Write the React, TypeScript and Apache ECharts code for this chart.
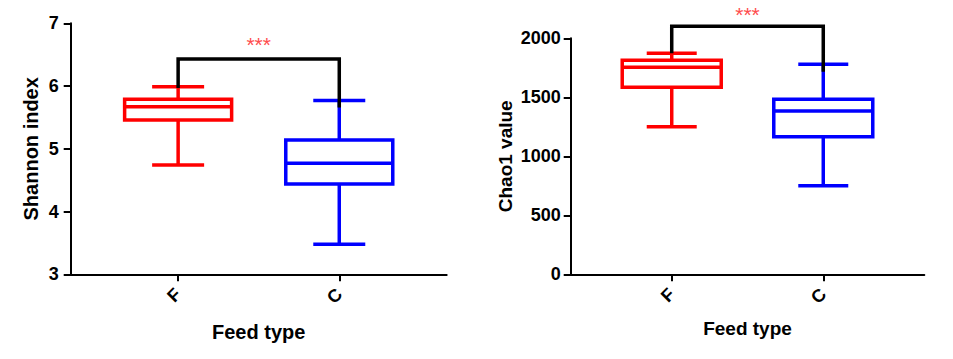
import React, { useEffect, useRef } from "react";
import * as echarts from "echarts";

// ---- data ----
const categories = ["F", "C"];
const categoryPos = [1, 2];
// box stats: [min, Q1, median, Q3, max]
const shannonF = [4.74, 5.46, 5.67, 5.79, 5.99];
const shannonC = [3.48, 4.44, 4.77, 5.14, 5.77];
const chaoF = [1251, 1585, 1754, 1813, 1873];
const chaoC = [751, 1166, 1384, 1483, 1780];
// bracket: [top, leftLegEnd, rightLegEnd, starY]
const shannonBracket = [6.43, 5.97, 5.66, 6.66];
const chaoBracket = [2102, 1873, 1717, 2200];
const sigLabel = "***";
const shannonTicks = { min: 3, max: 7, interval: 1 };
const chaoTicks = { min: 0, max: 2000, interval: 500 };

const FONT = "'Liberation Sans', Arial, sans-serif";
const RED = "#ff0000";
const BLUE = "#0000ff";

function boxSeries(xAxisIndex: number, yAxisIndex: number, stats: number[][], boxW: number, capW: number) {
  const colors = [RED, BLUE];
  return {
    type: "custom",
    xAxisIndex,
    yAxisIndex,
    clip: false,
    data: stats.map((s, i) => ({ value: [categoryPos[i], ...s], itemStyle: { color: colors[i] } })),
    renderItem: (params: any, api: any) => {
      const x = api.value(0);
      const c = api.visual("color");
      const pMin = api.coord([x, api.value(1)]);
      const pQ1 = api.coord([x, api.value(2)]);
      const pMed = api.coord([x, api.value(3)]);
      const pQ3 = api.coord([x, api.value(4)]);
      const pMax = api.coord([x, api.value(5)]);
      const cx = pMed[0];
      const hw = boxW / 2;
      const cw = capW / 2;
      const st = { stroke: c, lineWidth: 3.5, fill: "none" };
      return {
        type: "group",
        children: [
          { type: "line", shape: { x1: cx, y1: pQ3[1], x2: cx, y2: pMax[1] }, style: st },
          { type: "line", shape: { x1: cx, y1: pQ1[1], x2: cx, y2: pMin[1] }, style: st },
          { type: "line", shape: { x1: cx - cw, y1: pMax[1], x2: cx + cw, y2: pMax[1] }, style: st },
          { type: "line", shape: { x1: cx - cw, y1: pMin[1], x2: cx + cw, y2: pMin[1] }, style: st },
          { type: "rect", shape: { x: cx - hw, y: pQ3[1], width: 2 * hw, height: pQ1[1] - pQ3[1] }, style: st },
          { type: "line", shape: { x1: cx - hw, y1: pMed[1], x2: cx + hw, y2: pMed[1] }, style: st },
        ],
      };
    },
  };
}

function bracketSeries(xAxisIndex: number, yAxisIndex: number, b: number[]) {
  return {
    type: "custom",
    xAxisIndex,
    yAxisIndex,
    clip: false,
    z: 5,
    data: [[categoryPos[0], categoryPos[1], ...b]],
    renderItem: (params: any, api: any) => {
      const x1 = api.value(0);
      const x2 = api.value(1);
      const pTopL = api.coord([x1, api.value(2)]);
      const pTopR = api.coord([x2, api.value(2)]);
      const pL = api.coord([x1, api.value(3)]);
      const pR = api.coord([x2, api.value(4)]);
      const pStar = api.coord([(x1 + x2) / 2, api.value(5)]);
      return {
        type: "group",
        children: [
          {
            type: "polyline",
            shape: { points: [pL, pTopL, pTopR, pR] },
            style: { stroke: "#000", lineWidth: 3.5, fill: "none" },
          },
          {
            type: "text",
            x: pStar[0],
            y: pStar[1],
            style: {
              text: sigLabel,
              fill: "#ff4d4d",
              font: `21px ${FONT}`,
              align: "center",
              verticalAlign: "middle",
            },
          },
        ],
      };
    },
  };
}

function xAxis(gridIndex: number, nameGap: number, nameSize: number) {
  return {
    type: "value",
    gridIndex,
    min: 1 / 3,
    max: 8 / 3,
    name: "Feed type",
    nameLocation: "middle",
    nameGap,
    nameTextStyle: { fontFamily: FONT, fontWeight: "bold", fontSize: nameSize, color: "#000" },
    axisLine: { show: true, onZero: false, lineStyle: { color: "#000", width: 2 } },
    axisTick: { show: true, customValues: categoryPos, length: 7, lineStyle: { color: "#000", width: 2 } },
    axisLabel: {
      show: true,
      customValues: categoryPos,
      rotate: 45,
      margin: 17,
      formatter: (v: number) => categories[categoryPos.indexOf(Math.round(v))] ?? "",
      fontFamily: FONT,
      fontWeight: "bold",
      fontSize: 18,
      color: "#000",
    },
    splitLine: { show: false },
  };
}

function yAxis(gridIndex: number, name: string, t: any, nameGap: number, nameSize: number, margin: number) {
  return {
    type: "value",
    gridIndex,
    min: t.min,
    max: t.max,
    interval: t.interval,
    name,
    nameLocation: "middle",
    nameGap,
    nameTextStyle: { fontFamily: FONT, fontWeight: "bold", fontSize: nameSize, color: "#000" },
    axisLine: { show: true, lineStyle: { color: "#000", width: 2 } },
    axisTick: { show: true, length: 7, lineStyle: { color: "#000", width: 2 } },
    axisLabel: {
      margin,
      formatter: (v: number) => String(v),
      fontFamily: FONT,
      fontWeight: "bold",
      fontSize: 18,
      color: "#000",
    },
    splitLine: { show: false },
  };
}

export default function App() {
  const ref = useRef<HTMLDivElement>(null);
  useEffect(() => {
    document.body.style.margin = "0";
    const chart = echarts.init(ref.current!, null, { renderer: "svg" });
    chart.setOption({
      animation: false,
      backgroundColor: "#fff",
      grid: [
        { left: 70.7, top: 23.3, width: 376, height: 251 },
        { left: 570.7, top: 38.3, width: 353.6, height: 236 },
      ],
      xAxis: [xAxis(0, 48, 20), xAxis(1, 45, 19)],
      yAxis: [
        yAxis(0, "Shannon index", shannonTicks, 30, 20, 12),
        yAxis(1, "Chao1 value", chaoTicks, 56, 19, 10),
      ],
      series: [
        boxSeries(0, 0, [shannonF, shannonC], 107, 52),
        bracketSeries(0, 0, shannonBracket),
        boxSeries(1, 1, [chaoF, chaoC], 99, 50),
        bracketSeries(1, 1, chaoBracket),
      ],
    });
    return () => chart.dispose();
  }, []);
  return <div ref={ref} style={{ width: 953, height: 359 }} />;
}
